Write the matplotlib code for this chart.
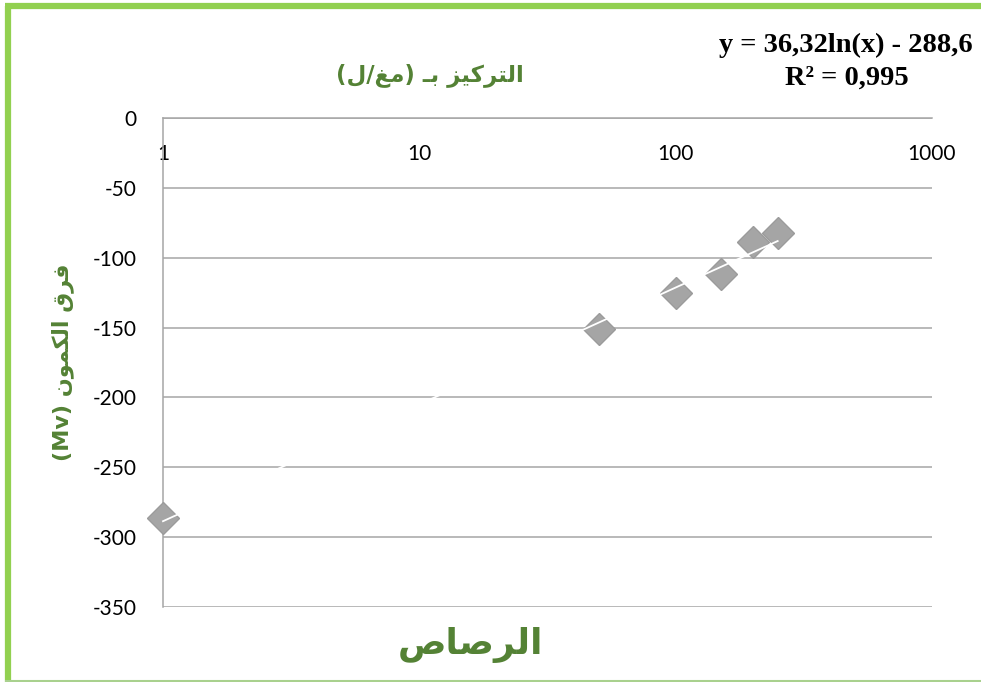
import unicodedata
import numpy as np
import matplotlib
matplotlib.use("Agg")
import matplotlib.pyplot as plt
from matplotlib.lines import Line2D

# ---------------- data ----------------
concentration = [1, 50, 100, 150, 200, 250]
potential_diff = [-286, -151, -125, -112, -89, -82]
trend_slope = 36.32
trend_intercept = -288.6
x_ticks = [1, 10, 100, 1000]
x_tick_labels = ["1", "10", "100", "1000"]
y_ticks = [0, -50, -100, -150, -200, -250, -300, -350]
y_tick_labels = ["0", "-50", "-100", "-150", "-200", "-250", "-300", "-350"]

title_text = "التركيز بـ (مغ/ل)"
ylabel_text = "فرق الكمون (Mv)"
bottom_text = "الرصاص"
equation_line = "y = 36,32ln(x) - 288,6"
r2_line = "R² = 0,995"

# ---------------- simple Arabic shaping + bidi ----------------
RIGHT_JOIN = set("اأإآدذرزوؤة")
TATWEEL = "\u0640"


def _is_ar(c):
    return "\u0621" <= c <= "\u064A"


def _dual(c):
    return (_is_ar(c) and c not in RIGHT_JOIN and c != "ء") or c == TATWEEL


def _joining(c):
    return (_is_ar(c) and c != "ء") or c == TATWEEL


def shape(s):
    out = []
    for i, c in enumerate(s):
        if not _is_ar(c) or c == TATWEEL:
            out.append(c)
            continue
        prev = s[i - 1] if i > 0 else ""
        nxt = s[i + 1] if i + 1 < len(s) else ""
        jp = prev != "" and _dual(prev)
        jn = nxt != "" and _joining(nxt) and _dual(c)
        form = "MEDIAL" if jp and jn else "FINAL" if jp else "INITIAL" if jn else "ISOLATED"
        try:
            out.append(unicodedata.lookup(f"{unicodedata.name(c)} {form} FORM"))
        except KeyError:
            out.append(c)
    return "".join(out)


MIRROR = {"(": ")", ")": "("}


def visual(s):
    s = shape(s)
    runs = []
    for c in s:
        ltr = c.isascii() and c.isalnum()
        if runs and runs[-1][0] == ltr:
            runs[-1][1].append(c)
        else:
            runs.append([ltr, [c]])
    parts = []
    for ltr, chars in reversed(runs):
        if ltr:
            parts.append("".join(chars))
        else:
            parts.append("".join(MIRROR.get(ch, ch) for ch in reversed(chars)))
    return "".join(parts)


# ---------------- figure ----------------
W, H = 981, 682
fig = plt.figure(figsize=(W / 100, H / 100), dpi=100)
fig.patch.set_facecolor("white")

ax = fig.add_axes([163 / W, 1 - 607 / H, (932 - 163) / W, (607 - 118) / H])
ax.set_xscale("log")
ax.set_xlim(1, 1000)
ax.set_ylim(-350, 0)

grid_c = "#A6A6A6"
ax.set_yticks(y_ticks)
ax.set_yticklabels(y_tick_labels)
ax.yaxis.grid(True, color=grid_c, linewidth=1.1)
ax.set_axisbelow(True)

ax.set_xticks(x_ticks)
ax.set_xticklabels(x_tick_labels)
ax.xaxis.set_minor_locator(matplotlib.ticker.NullLocator())
ax.xaxis.tick_top()
ax.tick_params(axis="x", length=0, pad=-33, labelsize=15, labelcolor="black")
ax.tick_params(axis="y", length=0, pad=19, labelsize=15, labelcolor="black")
for lab in ax.get_xticklabels() + ax.get_yticklabels():
    lab.set_fontfamily(["Lato", "DejaVu Sans"])

for side in ["right", "bottom"]:
    ax.spines[side].set_visible(False)
for side in ["top", "left"]:
    ax.spines[side].set_color(grid_c)
    ax.spines[side].set_linewidth(1.1)

ax.plot(concentration, potential_diff, linestyle="none", marker="D", markersize=16.5,
        markerfacecolor="#A5A5A5", markeredgecolor="#9B9B9B", markeredgewidth=1,
        zorder=3, clip_on=False)

xt = np.geomspace(min(concentration), max(concentration), 200)
ax.plot(xt, trend_slope * np.log(xt) + trend_intercept, color="white", linewidth=1.3,
        zorder=4, clip_on=False)

green = "#548235"
fig.text(430 / W, 1 - 75 / H, visual(title_text), ha="center", va="center",
         color=green, fontsize=16.5, fontweight="bold", family=["DejaVu Sans"])
fig.text(63 / W, 1 - 362 / H, visual(ylabel_text), ha="center", va="center", rotation=90,
         color=green, fontsize=16, fontweight="bold", family=["DejaVu Sans"])
fig.text(470 / W, 1 - 645 / H, visual(bottom_text), ha="center", va="center",
         color=green, fontsize=26, fontweight="bold", family=["DejaVu Sans"])

fig.text(846 / W, 1 - 45 / H, equation_line, ha="center", va="center",
         fontsize=20.5, fontweight="bold", family=["Liberation Serif"])
fig.text(847 / W, 1 - 78 / H, r2_line, ha="center", va="center",
         fontsize=20.5, fontweight="bold", family=["Liberation Serif"])

# border
border = "#92D050"
fig.add_artist(Line2D([8 / W, 8 / W], [0, 1 - 6 / H], color=border, linewidth=4.5,
                      transform=fig.transFigure, solid_capstyle="butt"))
fig.add_artist(Line2D([5 / W, 1], [1 - 6 / H, 1 - 6 / H], color=border, linewidth=4.5,
                      transform=fig.transFigure, solid_capstyle="butt"))
fig.add_artist(Line2D([5 / W, 1], [1 - 680.5 / H, 1 - 680.5 / H], color="#A9D18E", linewidth=1.5,
                      transform=fig.transFigure, solid_capstyle="butt"))

fig.savefig("out.png", dpi=100)
